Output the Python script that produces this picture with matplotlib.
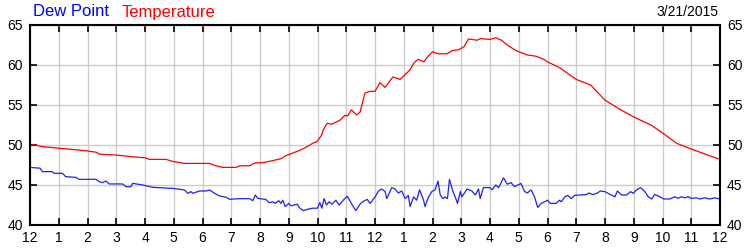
import matplotlib
matplotlib.use("Agg")
import matplotlib.pyplot as plt

# Temperature readings (hour of day, deg F)
temp_hours = [0, 0.43, 1.0, 1.6, 2.0, 2.3, 2.41, 3.0, 3.51, 4.0, 4.15, 4.73, 4.97, 5.37,
              6.24, 6.47, 6.71, 7.17, 7.29, 7.64, 7.81, 8.1, 8.45, 8.74, 8.92, 9.15,
              9.39, 9.62, 9.85, 9.97, 10.14, 10.2, 10.33, 10.5, 10.78, 10.95, 11.05,
              11.18, 11.36, 11.48, 11.65, 11.82, 12.0, 12.17, 12.35, 12.62, 12.87,
              13.22, 13.36, 13.5, 13.7, 13.8, 14.0, 14.2, 14.5, 14.68, 14.9, 15.1,
              15.25, 15.55, 15.67, 16.0, 16.2, 16.4, 16.6, 16.9, 17.3, 17.6, 17.88,
              18.0, 18.45, 19.0, 19.5, 20.0, 20.55, 21.0, 21.6, 22.0, 22.5, 23.0,
              23.57, 24.0]
temp_vals = [50.1, 49.8, 49.6, 49.4, 49.25, 49.1, 48.85, 48.75, 48.55, 48.4, 48.2, 48.2,
             47.95, 47.7, 47.7, 47.4, 47.2, 47.2, 47.4, 47.4, 47.75, 47.8, 48.05, 48.3,
             48.7, 49.0, 49.35, 49.75, 50.25, 50.4, 51.2, 51.9, 52.7, 52.6, 53.1, 53.7,
             53.65, 54.4, 53.75, 54.1, 56.5, 56.7, 56.7, 57.8, 57.2, 58.5, 58.2, 59.4,
             60.3, 60.7, 60.4, 60.9, 61.66, 61.4, 61.4, 61.8, 61.9, 62.3, 63.25, 63.1,
             63.3, 63.2, 63.4, 63.1, 62.5, 61.8, 61.25, 61.1, 60.7, 60.4, 59.6, 58.2,
             57.5, 55.6, 54.4, 53.5, 52.5, 51.5, 50.2, 49.5, 48.75, 48.2]

# Dew point readings (hour of day, deg F)
dew_hours = [0, 0.35, 0.43, 0.78, 0.84, 1.13, 1.24, 1.59, 1.71, 2.29, 2.41, 2.52, 2.64,
             2.76, 3.22, 3.34, 3.51, 3.57, 3.92, 4.27, 4.97, 5.37, 5.49, 5.6, 5.66, 5.9,
             6.13, 6.24, 6.42, 6.59, 6.83, 6.94, 7.29, 7.63, 7.75, 7.84, 7.92, 8.2, 8.32,
             8.44, 8.53, 8.65, 8.73, 8.79, 8.88, 9.0, 9.08, 9.19, 9.3, 9.36, 9.5, 9.65,
             9.83, 10.0, 10.08, 10.15, 10.23, 10.31, 10.4, 10.5, 10.64, 10.75, 10.92,
             11.04, 11.16, 11.33, 11.5, 11.62, 11.73, 11.83, 12.0, 12.12, 12.23, 12.35,
             12.41, 12.58, 12.7, 12.81, 12.93, 13.05, 13.16, 13.22, 13.34, 13.45, 13.55,
             13.69, 13.74, 13.86, 13.98, 14.09, 14.19, 14.27, 14.36, 14.44, 14.52, 14.59,
             14.71, 14.79, 14.87, 14.97, 15.02, 15.2, 15.37, 15.49, 15.6, 15.66, 15.77,
             16.0, 16.07, 16.2, 16.3, 16.47, 16.6, 16.73, 16.85, 16.97, 17.08, 17.2,
             17.3, 17.43, 17.55, 17.66, 17.78, 17.9, 18.0, 18.1, 18.3, 18.42, 18.48,
             18.6, 18.7, 18.83, 18.94, 19.12, 19.35, 19.44, 19.58, 19.71, 19.85, 20.0,
             20.17, 20.35, 20.43, 20.58, 20.75, 20.89, 20.98, 21.1, 21.24, 21.39, 21.5,
             21.62, 21.73, 21.9, 22.05, 22.25, 22.43, 22.54, 22.66, 22.77, 22.89, 23.0,
             23.18, 23.3, 23.47, 23.64, 23.82, 24.0]
dew_vals = [47.2, 47.1, 46.67, 46.67, 46.46, 46.46, 46.04, 45.96, 45.71, 45.71, 45.42,
            45.29, 45.5, 45.13, 45.13, 44.79, 44.79, 45.21, 45.0, 44.71, 44.58, 44.38,
            43.96, 44.17, 43.96, 44.25, 44.25, 44.38, 43.96, 43.63, 43.46, 43.21, 43.29,
            43.3, 43.04, 43.75, 43.33, 43.2, 42.8, 42.9, 42.7, 43.04, 42.7, 43.1, 42.3,
            42.7, 42.4, 42.5, 42.6, 42.2, 41.8, 41.96, 42.1, 42.1, 42.8, 42.1, 43.3, 42.5,
            42.9, 42.6, 43.1, 42.5, 43.2, 43.6, 42.8, 41.8, 42.7, 43.0, 43.2, 42.7, 43.5,
            44.25, 44.5, 44.2, 43.3, 44.67, 44.5, 44.0, 44.25, 43.3, 43.7, 42.3, 43.5,
            43.1, 44.4, 43.1, 42.3, 43.5, 44.2, 44.4, 45.5, 43.75, 43.3, 43.5, 43.3, 45.7,
            44.2, 43.5, 42.7, 44.2, 43.5, 44.5, 44.25, 43.75, 44.5, 43.3, 44.67, 44.67,
            44.4, 45.0, 44.67, 45.9, 45.1, 45.3, 44.8, 45.0, 45.2, 44.2, 44.0, 44.4, 43.5,
            42.2, 42.7, 42.9, 43.1, 42.7, 42.7, 43.1, 42.9, 43.5, 43.7, 43.3, 43.7, 43.75,
            43.8, 44.0, 43.8, 43.96, 44.25, 44.17, 43.83, 43.54, 44.25, 43.75, 43.75,
            44.17, 43.96, 44.4, 44.67, 44.17, 43.54, 43.25, 43.83, 43.54, 43.25, 43.25,
            43.54, 43.33, 43.54, 43.4, 43.54, 43.33, 43.4, 43.25, 43.4, 43.25, 43.4, 43.25]

hour_ticks = list(range(25))
hour_labels = ["12", "1", "2", "3", "4", "5", "6", "7", "8", "9", "10", "11",
               "12", "1", "2", "3", "4", "5", "6", "7", "8", "9", "10", "11", "12"]
y_ticks = [40, 45, 50, 55, 60, 65]
date_text = "3/21/2015"

plt.rcParams['font.family'] = ['Liberation Sans', 'DejaVu Sans']

fig = plt.figure(figsize=(7.5, 2.5), dpi=100)
ax = fig.add_axes([30 / 750, 25 / 250, 690 / 750, 200 / 250])

ax.plot(temp_hours, temp_vals, color='#ff0000', linewidth=0.9)
ax.plot(dew_hours, dew_vals, color='#2020ff', linewidth=0.9)

ax.set_xlim(0, 24)
ax.set_ylim(40, 65)
ax.set_xticks(hour_ticks)
ax.set_xticklabels(hour_labels)
ax.set_yticks(y_ticks)
ax.grid(True, color='#cccccc', linewidth=1)
ax.set_axisbelow(True)

for s in ax.spines.values():
    s.set_color('black')
    s.set_linewidth(1.5)

ax.tick_params(axis='both', direction='in', length=5, width=1.2, labelsize=10,
               top=True, right=True, labelright=True, pad=4)
ax.tick_params(axis='y', pad=5)

fig.text(33 / 750, 1 - 12 / 250, "Dew Point", color='#0000ff', fontsize=12, va='center')
fig.text(122 / 750, 1 - 12 / 250, "Temperature", color='#ff0000', fontsize=12, va='center')
fig.text(718 / 750, 1 - 12 / 250, date_text, color='black', fontsize=10, va='center', ha='right')

fig.savefig("out.png", dpi=100)
